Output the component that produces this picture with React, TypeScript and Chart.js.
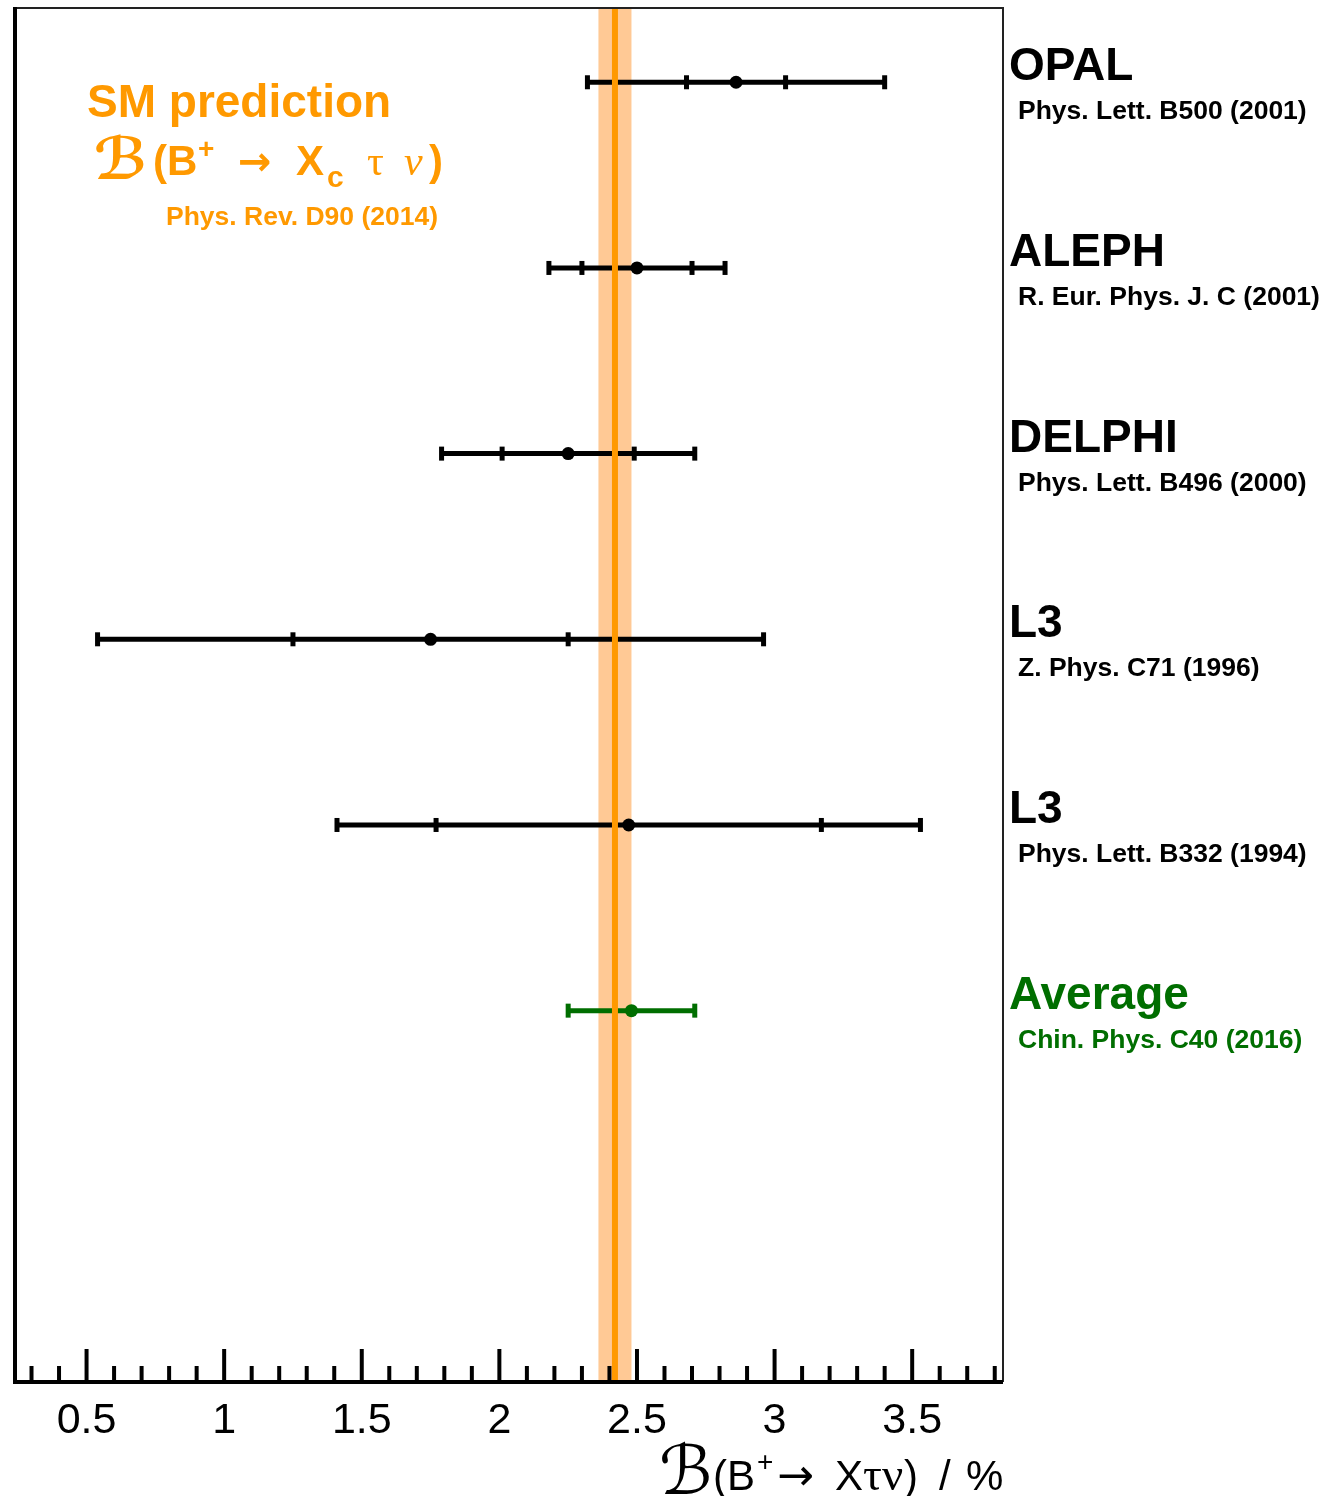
import React, { useEffect, useRef } from 'react';
import { Chart, registerables } from 'chart.js';

Chart.register(...registerables);

// ---------------- data ----------------
const experiments = ['OPAL', 'ALEPH', 'DELPHI', 'L3', 'L3', 'Average'];
const references = [
  'Phys. Lett. B500 (2001)',
  'R. Eur. Phys. J. C (2001)',
  'Phys. Lett. B496 (2000)',
  'Z. Phys. C71 (1996)',
  'Phys. Lett. B332 (1994)',
  'Chin. Phys. C40 (2016)',
];
const centralValues = [2.86, 2.50, 2.25, 1.75, 2.47, 2.48];
const innerErrors = [0.18, 0.20, 0.24, 0.50, 0.70, 0];
const totalErrors = [0.54, 0.32, 0.46, 1.21, 1.06, 0.23];
const isAverage = [false, false, false, false, false, true];
const smValue = 2.42;
const smError = 0.06;
const xMin = 0.24;
const xMax = 3.83;
const xStep = 0.1;
const xLabelStep = 0.5;

const BLACK = '#000000';
const GREEN = '#006E00';
const ORANGE = '#FF9900';
const BAND = '#FFC995';
const SANS = '"Liberation Sans", Arial, sans-serif';
const SERIF = '"Liberation Serif", "DejaVu Serif", serif';
const SCRIPT = '"DejaVu Serif", "DejaVu Sans", serif';
const ARROW = '"DejaVu Sans", sans-serif';

const isLabelTick = (v: number) => Math.abs(v / xLabelStep - Math.round(v / xLabelStep)) < 1e-6;

type Piece = { t: string; font: string; dy?: number; x?: number };

function drawPieces(ctx: CanvasRenderingContext2D, pieces: Piece[], x: number, y: number, color: string) {
  ctx.save();
  ctx.fillStyle = color;
  ctx.textBaseline = 'alphabetic';
  ctx.textAlign = 'left';
  let cx = x;
  pieces.forEach((p) => {
    ctx.font = p.font;
    if (p.x !== undefined) cx = p.x;
    ctx.fillText(p.t, cx, y + (p.dy || 0));
    cx += ctx.measureText(p.t).width;
  });
  ctx.restore();
}

const overlayPlugin = {
  id: 'overlay',
  beforeDatasetsDraw(chart: any) {
    const { ctx, chartArea: a, scales } = chart;
    const xs = scales.x;
    const ys = scales.y;
    ctx.save();
    // SM band
    const b1 = xs.getPixelForValue(smValue - smError);
    const b2 = xs.getPixelForValue(smValue + smError);
    ctx.fillStyle = BAND;
    ctx.fillRect(b1, a.top, b2 - b1, a.bottom - a.top);

    // error bars
    centralValues.forEach((c, i) => {
      const py = ys.getPixelForValue(i);
      const col = isAverage[i] ? GREEN : BLACK;
      ctx.strokeStyle = col;
      ctx.fillStyle = col;
      ctx.lineWidth = 5;
      const lo = xs.getPixelForValue(c - totalErrors[i]);
      const hi = xs.getPixelForValue(c + totalErrors[i]);
      ctx.beginPath();
      ctx.moveTo(lo, py);
      ctx.lineTo(hi, py);
      ctx.stroke();
      const caps = [lo, hi];
      if (innerErrors[i] > 0) {
        caps.push(xs.getPixelForValue(c - innerErrors[i]));
        caps.push(xs.getPixelForValue(c + innerErrors[i]));
      }
      caps.forEach((cx) => {
        ctx.fillRect(cx - 2.5, py - 7, 5, 14);
      });
    });

    // SM central line
    const sx = xs.getPixelForValue(smValue);
    ctx.strokeStyle = ORANGE;
    ctx.lineWidth = 6;
    ctx.beginPath();
    ctx.moveTo(sx, a.top);
    ctx.lineTo(sx, a.bottom);
    ctx.stroke();
    ctx.restore();
  },
  afterDraw(chart: any) {
    const { ctx, chartArea: a, scales } = chart;
    const xs = scales.x;
    const ys = scales.y;
    ctx.save();
    // frame
    ctx.strokeStyle = '#222';
    ctx.lineWidth = 2;
    ctx.beginPath();
    ctx.moveTo(a.left, a.top);
    ctx.lineTo(a.right, a.top);
    ctx.lineTo(a.right, a.bottom);
    ctx.stroke();
    ctx.strokeStyle = BLACK;
    ctx.lineWidth = 4;
    ctx.beginPath();
    ctx.moveTo(a.left, a.top - 1);
    ctx.lineTo(a.left, a.bottom);
    ctx.lineTo(a.right, a.bottom);
    ctx.stroke();

    // inner tick marks every xStep, longer at labelled values
    ctx.lineWidth = 4;
    const kFirst = Math.ceil(xs.min / xStep - 1e-9);
    const kLast = Math.floor(xs.max / xStep + 1e-9);
    for (let k = kFirst; k <= kLast; k++) {
      const v = k * xStep;
      const px = xs.getPixelForValue(v);
      const len = isLabelTick(v) ? 33 : 16;
      ctx.beginPath();
      ctx.moveTo(px, a.bottom);
      ctx.lineTo(px, a.bottom - len);
      ctx.stroke();
    }

    // experiment labels
    ctx.textAlign = 'left';
    ctx.textBaseline = 'alphabetic';
    experiments.forEach((name, i) => {
      const py = ys.getPixelForValue(i);
      const col = isAverage[i] ? GREEN : BLACK;
      ctx.fillStyle = col;
      ctx.font = `bold 46px ${SANS}`;
      ctx.fillText(name, a.right + 6, py - 2);
      ctx.font = `bold 26.5px ${SANS}`;
      ctx.fillText(references[i], a.right + 15, py + 37);
    });

    // SM prediction block
    ctx.fillStyle = ORANGE;
    ctx.font = `bold 46px ${SANS}`;
    ctx.fillText('SM prediction', 87, 117);
    drawPieces(
      ctx,
      [
        { t: '\u212C', font: `bold 58px ${SCRIPT}`, x: 94, dy: 4 },
        { t: '(B', font: `bold 42px ${SANS}`, x: 153 },
        { t: '+', font: `bold 28px ${SANS}`, dy: -17, x: 198 },
        { t: '\u2192', font: `bold 40px ${ARROW}`, x: 238 },
        { t: 'X', font: `bold 42px ${SANS}`, x: 296 },
        { t: 'c', font: `bold 30px ${SANS}`, dy: 12, x: 327 },
        { t: '\u03C4', font: `42px ${SERIF}`, x: 367 },
        { t: '\u03BD', font: `italic 42px ${SERIF}`, x: 404 },
        { t: ')', font: `bold 42px ${SANS}`, x: 429 },
      ],
      94,
      175,
      ORANGE
    );
    ctx.fillStyle = ORANGE;
    ctx.font = `bold 26.5px ${SANS}`;
    ctx.fillText('Phys. Rev. D90 (2014)', 166, 225);

    // axis title
    drawPieces(
      ctx,
      [
        { t: '\u212C', font: `68px ${SCRIPT}`, dy: 4, x: 659 },
        { t: '(B', font: `42px ${SANS}`, x: 713 },
        { t: '+', font: `28px ${SANS}`, dy: -19, x: 757 },
        { t: '\u2192', font: `44px ${ARROW}`, x: 777 },
        { t: 'X', font: `42px ${SANS}`, x: 835 },
        { t: '\u03C4\u03BD', font: `47px ${SERIF}`, x: 863 },
        { t: ')', font: `42px ${SANS}`, x: 904 },
        { t: '/', font: `42px ${SANS}`, x: 939 },
        { t: '%', font: `42px ${SANS}`, x: 966 },
      ],
      659,
      1490,
      BLACK
    );
    ctx.restore();
  },
};

export default function App() {
  const ref = useRef<HTMLCanvasElement | null>(null);
  useEffect(() => {
    if (!ref.current) return;
    const chart = new Chart(ref.current, {
      type: 'scatter',
      data: {
        datasets: [
          {
            data: centralValues.map((c, i) => ({ x: c, y: i })),
            pointRadius: 6.5,
            pointHoverRadius: 6.5,
            pointBackgroundColor: isAverage.map((av) => (av ? GREEN : BLACK)),
            pointBorderColor: isAverage.map((av) => (av ? GREEN : BLACK)),
            pointBorderWidth: 0,
          },
        ],
      },
      options: {
        animation: false,
        responsive: false,
        maintainAspectRatio: false,
        layout: { padding: { left: 15, top: 8, right: 1326 - 1003, bottom: 0 } },
        plugins: { legend: { display: false }, tooltip: { enabled: false } },
        scales: {
          x: {
            type: 'linear',
            position: 'bottom',
            min: xMin,
            max: xMax,
            grid: { display: false, drawTicks: false },
            border: { display: false },
            ticks: {
              stepSize: xStep,
              autoSkip: false,
              maxRotation: 0,
              minRotation: 0,
              padding: 13,
              color: BLACK,
              font: { family: SANS, size: 43 },
              callback: (v: any) => {
                const n = Number(v);
                if (!isLabelTick(n)) return '';
                return String(Math.round(n / xLabelStep) * xLabelStep);
              },
            },
            afterFit: (s: any) => {
              s.height = 1496 - 1382;
            },
          },
          y: { type: 'linear', min: -0.4, max: 7.0, reverse: true, display: false },
        },
      },
      plugins: [overlayPlugin],
    } as any);
    return () => chart.destroy();
  }, []);
  return (
    <div style={{ position: 'absolute', left: 0, top: 0, width: 1326, height: 1496, background: '#fff' }}>
      <canvas ref={ref} width={1326} height={1496} style={{ width: 1326, height: 1496, display: 'block' }} />
    </div>
  );
}
